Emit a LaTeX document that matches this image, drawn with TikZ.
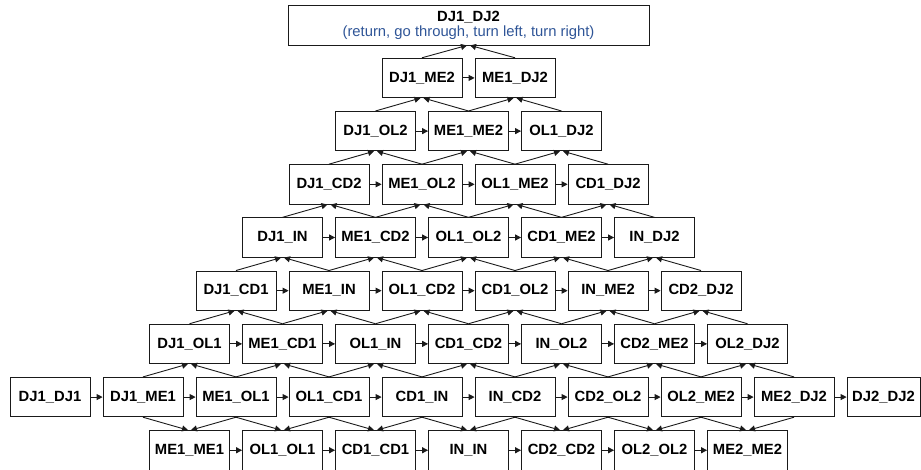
\documentclass[tikz,border=0pt]{standalone}
\usepackage{fontspec}
\setmainfont{Liberation Sans}
\usetikzlibrary{arrows.meta}
\definecolor{subblue}{HTML}{2F5597}
\definecolor{edgec}{HTML}{1A1A1A}
\newcommand\placerow[3]{\foreach \lab [count=\i from 0] in {#3} \node[box] (r#1-\i) at ({50+93*(#2+\i)}, {5+53.1875*#1+19.75}) {\lab};}
\begin{document}
\begin{tikzpicture}[x=1pt,y=-1pt,
  box/.style={draw=edgec, line width=0.8pt, minimum width=80pt, minimum height=39.5pt, inner sep=0pt, font=\fontsize{14.8}{16}\selectfont\bfseries},
  arr/.style={draw=edgec, line width=0.9pt, -{Triangle[length=6pt,width=6pt]}},
]
\useasboundingbox (0,0) rectangle (921,470);
\node[box, minimum width=361pt, minimum height=40pt, align=center] (r0-0) at (468.5,25)
  {DJ1\_DJ2\\[-1pt]{\mdseries\color{subblue}(return, go through, turn left, turn right)}};
\placerow{1}{4}{DJ1\_ME2, ME1\_DJ2}
\placerow{2}{3.5}{DJ1\_OL2, ME1\_ME2, OL1\_DJ2}
\placerow{3}{3}{DJ1\_CD2, ME1\_OL2, OL1\_ME2, CD1\_DJ2}
\placerow{4}{2.5}{DJ1\_IN, ME1\_CD2, OL1\_OL2, CD1\_ME2, IN\_DJ2}
\placerow{5}{2}{DJ1\_CD1, ME1\_IN, OL1\_CD2, CD1\_OL2, IN\_ME2, CD2\_DJ2}
\placerow{6}{1.5}{DJ1\_OL1, ME1\_CD1, OL1\_IN, CD1\_CD2, IN\_OL2, CD2\_ME2, OL2\_DJ2}
\placerow{7}{0}{DJ1\_DJ1, DJ1\_ME1, ME1\_OL1, OL1\_CD1, CD1\_IN, IN\_CD2, CD2\_OL2, OL2\_ME2, ME2\_DJ2}
\node[box, minimum width=73pt] (r7-9) at (883.5, {5+53.1875*7+19.75}) {DJ2\_DJ2};
\placerow{8}{1.5}{ME1\_ME1, OL1\_OL1, CD1\_CD1, IN\_IN, CD2\_CD2, OL2\_OL2, ME2\_ME2}
% horizontal arrows
\foreach \r/\n in {1/1,2/2,3/3,4/4,5/5,6/6,7/9,8/6}
  \foreach \i in {1,...,\n} {
    \pgfmathtruncatemacro\j{\i-1}
    \draw[arr] (r\r-\j.east) -- (r\r-\i.west);
  }
% vertical arrows rows 0..5
\foreach \r in {0,...,5} {
  \pgfmathtruncatemacro\rr{\r+1}
  \foreach \i in {0,...,\r} {
    \pgfmathtruncatemacro\ip{\i+1}
    \draw[arr] (r\rr-\i.north) -- ([xshift=-1.5pt]r\r-\i.south);
    \draw[arr] (r\rr-\ip.north) -- ([xshift=1.5pt]r\r-\i.south);
  }
}
% row 6 from row 7, row 8 from row 7
\foreach \i in {0,...,6} {
  \pgfmathtruncatemacro\a{\i+1}
  \pgfmathtruncatemacro\b{\i+2}
  \draw[arr] (r7-\a.north) -- ([xshift=-1.5pt]r6-\i.south);
  \draw[arr] (r7-\b.north) -- ([xshift=1.5pt]r6-\i.south);
  \draw[arr] (r7-\a.south) -- ([xshift=-1.5pt]r8-\i.north);
  \draw[arr] (r7-\b.south) -- ([xshift=1.5pt]r8-\i.north);
}
\end{tikzpicture}
\end{document}
